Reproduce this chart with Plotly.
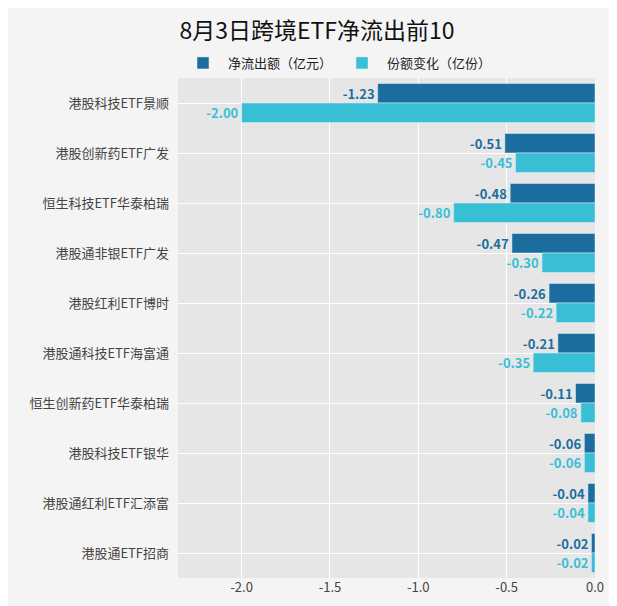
import plotly.graph_objects as go

categories = ["港股科技ETF景顺", "港股创新药ETF广发", "恒生科技ETF华泰柏瑞", "港股通非银ETF广发",
              "港股红利ETF博时", "港股通科技ETF海富通", "恒生创新药ETF华泰柏瑞", "港股科技ETF银华",
              "港股通红利ETF汇添富", "港股通ETF招商"]
net_outflow = [-1.23, -0.51, -0.48, -0.47, -0.26, -0.21, -0.11, -0.06, -0.04, -0.02]
share_change = [-2.00, -0.45, -0.80, -0.30, -0.22, -0.35, -0.08, -0.06, -0.04, -0.02]

dark = "#1a6d9e"
light = "#38bfd6"

fig = go.Figure()
fig.add_trace(go.Bar(y=categories, x=net_outflow, orientation="h", name="净流出额（亿元）",
                     marker_color=dark, text=[f"{v:.2f}" for v in net_outflow],
                     textposition="outside", textfont=dict(color=dark, size=13, family="Noto Sans CJK SC"),
                     cliponaxis=False))
fig.add_trace(go.Bar(y=categories, x=share_change, orientation="h", name="份额变化（亿份）",
                     marker_color=light, text=[f"{v:.2f}" for v in share_change],
                     textposition="outside", textfont=dict(color=light, size=13, family="Noto Sans CJK SC"),
                     cliponaxis=False))

fig.update_layout(
    width=606, height=604,
    title=dict(text="8月3日跨境ETF净流出前10", x=0.51, y=0.975, xanchor="center",
               font=dict(size=23, color="#111")),
    font=dict(family="Noto Sans CJK SC", color="#444", size=12),
    paper_bgcolor="#f4f4f4", plot_bgcolor="#e6e6e6",
    barmode="group", bargap=0.22, bargroupgap=0.0,
    margin=dict(l=170, r=10, t=70, b=34),
    legend=dict(orientation="h", x=0.0, xanchor="left", y=1.0, yanchor="bottom",
                font=dict(size=13, color="#222"), bgcolor="rgba(0,0,0,0)", itemwidth=40),
    xaxis=dict(range=[-2.36, 0], tickvals=[-2.0, -1.5, -1.0, -0.5, 0.0],
               ticktext=["-2.0", "-1.5", "-1.0", "-0.5", "0.0"],
               gridcolor="#ffffff", zeroline=False, tickfont=dict(size=13)),
    yaxis=dict(autorange="reversed", gridcolor="#ffffff", tickfont=dict(size=13, color="#444"),
               ticks="", ticklabelstandoff=8),
)
fig.update_traces(texttemplate="<b>%{text}</b>")

fig.write_html("out.html")
